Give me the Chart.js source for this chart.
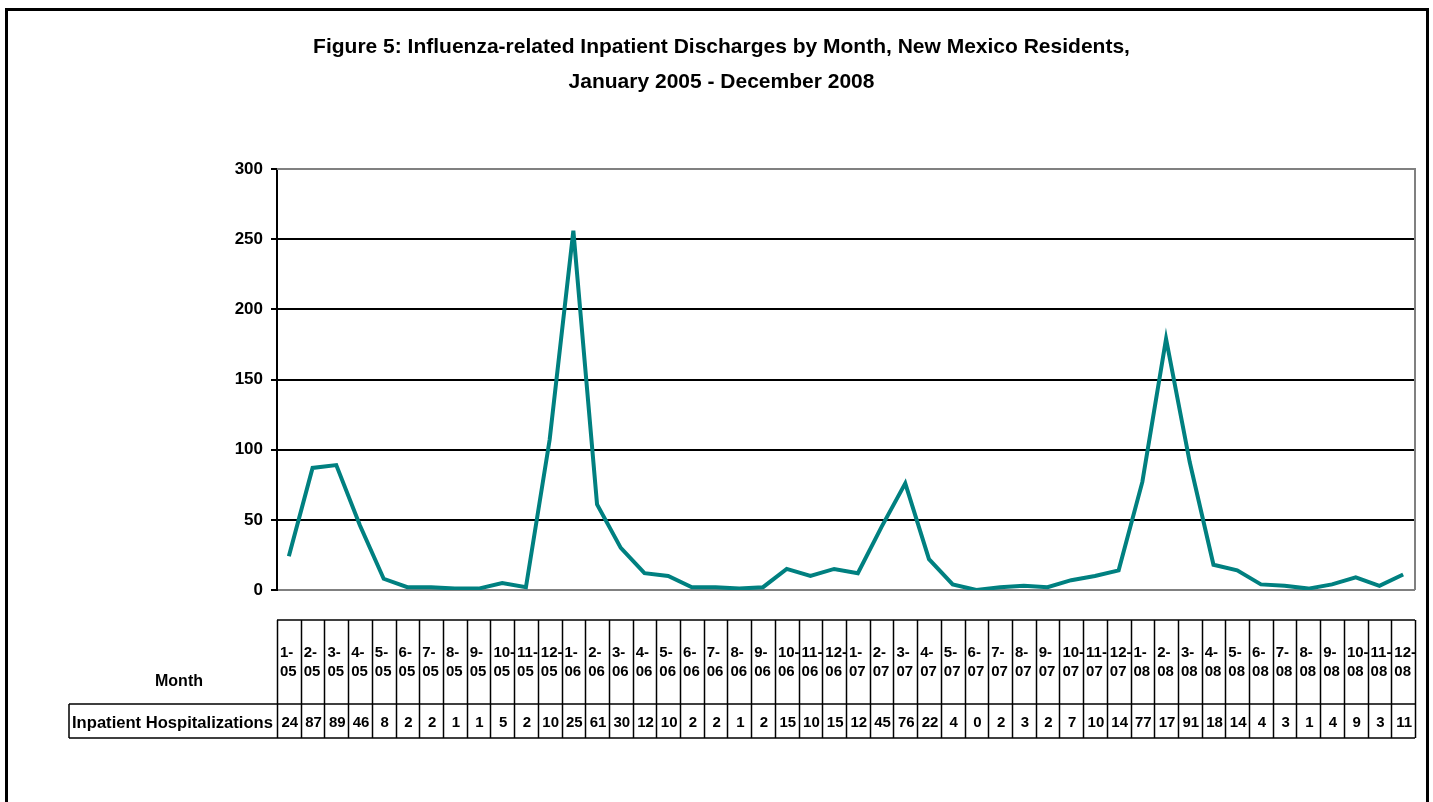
<!DOCTYPE html>
<html>
<head>
<meta charset="utf-8">
<script src="https://cdn.jsdelivr.net/npm/chart.js@4.4.1/dist/chart.umd.min.js"></script>
<style>
  html, body { margin: 0; padding: 0; background: #fff; }
  #wrap { position: relative; width: 1433px; height: 802px; }
</style>
</head>
<body>
<div id="wrap"><canvas id="c" width="1433" height="802"></canvas></div>
<script>
// ---- data ----
const months = [
  "1-05","2-05","3-05","4-05","5-05","6-05","7-05","8-05","9-05","10-05","11-05","12-05",
  "1-06","2-06","3-06","4-06","5-06","6-06","7-06","8-06","9-06","10-06","11-06","12-06",
  "1-07","2-07","3-07","4-07","5-07","6-07","7-07","8-07","9-07","10-07","11-07","12-07",
  "1-08","2-08","3-08","4-08","5-08","6-08","7-08","8-08","9-08","10-08","11-08","12-08"
];
const hospitalizations = [
  24, 87, 89, 46, 8, 2, 2, 1, 1, 5, 2, 107,
  256, 61, 30, 12, 10, 2, 2, 1, 2, 15, 10, 15,
  12, 45, 76, 22, 4, 0, 2, 3, 2, 7, 10, 14,
  77, 179, 91, 18, 14, 4, 3, 1, 4, 9, 3, 11
];
const yTicks = [0, 50, 100, 150, 200, 250, 300];
const titleLines = [
  "Figure 5: Influenza-related Inpatient Discharges by Month, New Mexico Residents,",
  "January 2005 - December 2008"
];
const rowHeaderMonth = "Month";
const rowHeaderValues = "Inpatient Hospitalizations";

const FONT = '"Liberation Sans", Arial, Helvetica, sans-serif';

const framePlugin = {
  id: 'framePlugin',
  beforeDatasetsDraw(chart) {
    const { ctx, chartArea: a } = chart;
    ctx.save();
    ctx.strokeStyle = '#808080';
    ctx.lineWidth = 2;
    ctx.beginPath();
    ctx.moveTo(a.left, a.top);
    ctx.lineTo(a.right, a.top);
    ctx.lineTo(a.right, a.bottom);
    ctx.stroke();
    ctx.restore();
  },
  afterDraw(chart) {
    const { ctx, chartArea: a } = chart;
    const xs = chart.scales.x;
    ctx.save();
    // outer border
    ctx.fillStyle = '#000';
    ctx.fillRect(5, 8, 3, 802);
    ctx.fillRect(5, 8, 1424, 3);
    ctx.fillRect(1426, 8, 3, 802);

    // data table
    const n = months.length;
    const w = (a.right - a.left) / n;
    const top = 620, mid = 704, bot = 738, tableLeft = 69;
    ctx.strokeStyle = '#000';
    ctx.lineWidth = 1.5;
    ctx.beginPath();
    ctx.moveTo(a.left, top); ctx.lineTo(a.right, top);
    ctx.moveTo(tableLeft, mid); ctx.lineTo(a.right, mid);
    ctx.moveTo(tableLeft, bot); ctx.lineTo(a.right, bot);
    ctx.moveTo(tableLeft, mid); ctx.lineTo(tableLeft, bot);
    for (let i = 0; i <= n; i++) {
      const x = Math.round(a.left + i * w) + 0.5;
      ctx.moveTo(x, top); ctx.lineTo(x, bot);
    }
    ctx.stroke();

    ctx.fillStyle = '#000';
    ctx.textBaseline = 'middle';
    ctx.font = 'bold 16px ' + FONT;
    ctx.textAlign = 'center';
    ctx.fillText(rowHeaderMonth, 179, 682);
    ctx.font = 'bold 16.6px ' + FONT;
    ctx.textAlign = 'left';
    ctx.fillText(rowHeaderValues, 72, 723);

    ctx.font = 'bold 15px ' + FONT;
    for (let i = 0; i < n; i++) {
      const cx = xs.getPixelForValue(i);
      const colLeft = cx - w / 2;
      const parts = months[i].split('-');
      ctx.textAlign = 'left';
      ctx.fillText(parts[0] + '-', colLeft + 3, 653);
      ctx.fillText(parts[1], colLeft + 3, 672);
      ctx.textAlign = 'center';
      // cell shows only the first two characters (narrow cell)
      ctx.fillText(String(hospitalizations[i]).slice(0, 2), cx + 1, 723);
    }
    ctx.restore();
  }
};

new Chart(document.getElementById('c'), {
  type: 'line',
  data: {
    labels: months,
    datasets: [{
      label: rowHeaderValues,
      data: hospitalizations,
      borderColor: '#008080',
      backgroundColor: '#008080',
      borderWidth: 4,
      pointRadius: 0,
      tension: 0,
      fill: false
    }]
  },
  options: {
    responsive: false,
    animation: false,
    events: [],
    layout: { padding: { left: 28, right: 18, top: 0, bottom: 212 } },
    plugins: {
      legend: { display: false },
      tooltip: { enabled: false },
      title: {
        display: true,
        text: titleLines,
        color: '#000',
        font: { family: FONT, size: 21, weight: 'bold', lineHeight: 35 / 21 },
        padding: { top: 30, bottom: 69 }
      }
    },
    scales: {
      x: {
        type: 'category',
        offset: true,
        display: false
      },
      y: {
        min: 0,
        max: 300,
        afterBuildTicks(scale) { scale.ticks = yTicks.map(v => ({ value: v })); },
        afterFit(scale) { scale.width = 249; },
        ticks: {
          color: '#000',
          padding: 8,
          font: { family: FONT, size: 17, weight: 'bold' }
        },
        grid: {
          color: (c) => (c.tick && (c.tick.value === 0 || c.tick.value === 300)) ? '#808080' : '#000',
          lineWidth: 2,
          tickLength: 6,
          tickColor: '#000',
          drawTicks: true
        },
        border: { display: true, color: '#000', width: 2 }
      }
    }
  },
  plugins: [framePlugin]
});
</script>
</body>
</html>
